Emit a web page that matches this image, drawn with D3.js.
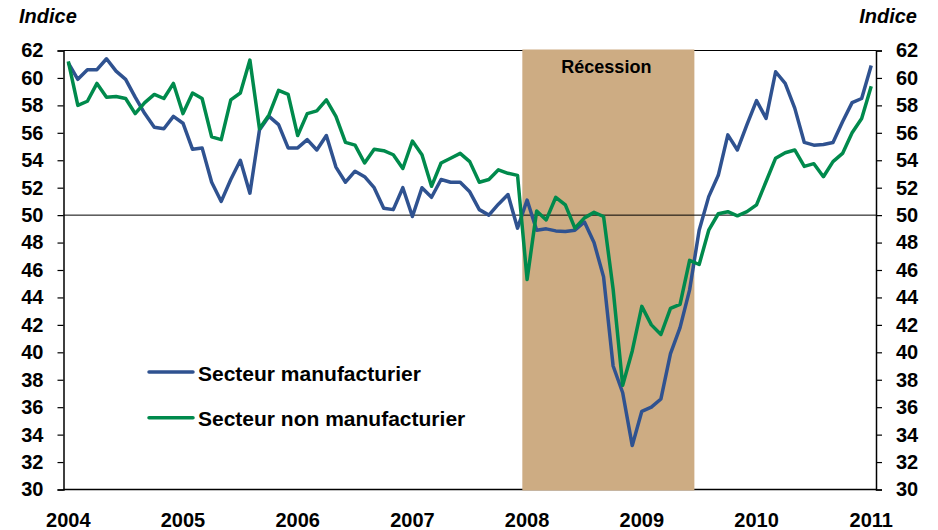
<!DOCTYPE html>
<html>
<head>
<meta charset="utf-8">
<script src="https://cdn.jsdelivr.net/npm/d3@7"></script>
<style>
  body { margin: 0; background: #fff; }
  svg { display: block; font-family: "Liberation Sans", Arial, sans-serif; }
</style>
</head>
<body>
<svg width="938" height="530"></svg>
<script>
// monthly categories, Jan 2004 .. Jan 2011
const months = d3.timeMonth.range(new Date(2004, 0, 1), new Date(2011, 1, 1));
const yearTicks = [2004, 2005, 2006, 2007, 2008, 2009, 2010, 2011];
const yTicks = d3.range(30, 63, 2);

const manufacturier = [
  61.1, 59.9, 60.6, 60.6, 61.4, 60.5, 59.9, 58.6, 57.4, 56.4, 56.3, 57.2,
  56.7, 54.8, 54.9, 52.4, 51.0, 52.6, 54.0, 51.6, 56.2, 57.2, 56.6, 54.9,
  54.9, 55.5, 54.75, 55.8, 53.5, 52.4, 53.2, 52.8, 52.0, 50.5, 50.4, 52.0,
  49.9, 52.0, 51.3, 52.6, 52.4, 52.4, 51.7, 50.4, 50.0, 50.8, 51.5, 49.05,
  51.1, 48.9, 49.0, 48.85, 48.8, 48.9, 49.5, 48.0, 45.5, 39.0, 37.05, 33.2,
  35.7, 36.0, 36.6, 39.9, 41.8, 44.55, 48.9, 51.35, 52.9, 55.85, 54.75, 56.6,
  58.35, 57.05, 60.45, 59.6, 57.8, 55.3, 55.1, 55.15, 55.3, 56.8, 58.2, 58.5,
  60.9
];
const nonManufacturier = [
  61.2, 58.0, 58.3, 59.6, 58.6, 58.65, 58.5, 57.4, 58.2, 58.8, 58.5, 59.6,
  57.4, 58.9, 58.5, 55.7, 55.5, 58.4, 58.9, 61.3, 56.3, 57.3, 59.1, 58.8,
  55.8, 57.4, 57.6, 58.4, 57.2, 55.3, 55.1, 53.8, 54.8, 54.7, 54.4, 53.4,
  55.4, 54.4, 52.1, 53.8, 54.15, 54.5, 53.9, 52.4, 52.6, 53.3, 53.05, 52.9,
  45.3, 50.3, 49.65, 51.3, 50.75, 49.05, 49.8, 50.2, 49.9, 44.6, 37.6, 40.1,
  43.35, 42.0, 41.3, 43.2, 43.5, 46.7, 46.4, 48.9, 50.1, 50.25, 49.95, 50.25,
  50.75, 52.45, 54.15, 54.55, 54.75, 53.55, 53.75, 52.8, 53.9, 54.5, 56.0, 57.05,
  59.4
];
const recession = [new Date(2008, 0, 1), new Date(2009, 5, 1)];

const series = [
  { name: "Secteur manufacturier", values: manufacturier, color: "#2F5290" },
  { name: "Secteur non manufacturier", values: nonManufacturier, color: "#008A4C" }
];

const svg = d3.select("svg");
const plotL = 63.5, plotR = 876, plotT = 50.5, plotB = 489.5;
const fontFam = "Liberation Sans, Arial, sans-serif";

const x = d3.scaleBand().domain(months.map(d => +d)).range([plotL, plotR]).padding(0);
const xc = d => x(+d) + x.bandwidth() / 2;
const y = d3.scaleLinear().domain([30, 62]).range([plotB, plotT]);

// frame top / bottom
svg.append("line").attr("x1", plotL).attr("x2", plotR).attr("y1", plotT).attr("y2", plotT)
  .attr("stroke", "#000").attr("stroke-width", 1.2);
svg.append("line").attr("x1", plotL).attr("x2", plotR).attr("y1", plotB).attr("y2", plotB)
  .attr("stroke", "#000").attr("stroke-width", 1.5);

// recession band
const r0 = x(+recession[0]);
const r1 = x(+recession[1]) + x.bandwidth();
svg.append("rect").attr("x", r0).attr("y", plotT - 1).attr("width", r1 - r0)
  .attr("height", plotB - plotT + 2).attr("fill", "#CDAC83");
svg.append("text").attr("x", (r0 + r1) / 2 - 2).attr("y", 73).attr("text-anchor", "middle")
  .attr("font-size", 18).attr("font-weight", "bold").text("Récession");

// 50 line
svg.append("line").attr("x1", plotL).attr("x2", plotR).attr("y1", y(50)).attr("y2", y(50))
  .attr("stroke", "#000").attr("stroke-width", 1);

// axes
const yl = svg.append("g").attr("transform", `translate(${plotL},0)`)
  .call(d3.axisLeft(y).tickValues(yTicks).tickSize(6).tickPadding(14).tickFormat(d3.format("d")));
const yr = svg.append("g").attr("transform", `translate(${plotR},0)`)
  .call(d3.axisRight(y).tickValues(yTicks).tickSize(6).tickPadding(14).tickFormat(d3.format("d")));
[yl, yr].forEach(g => {
  g.select(".domain").attr("stroke", "#000").attr("stroke-width", 1.5);
  g.selectAll(".tick line").attr("stroke", "#000").attr("stroke-width", 1.2);
  g.selectAll(".tick text").attr("font-size", 20).attr("font-weight", "bold")
    .attr("font-family", fontFam).attr("fill", "#000");
});

const xa = svg.append("g").attr("transform", `translate(0,${plotB})`)
  .call(d3.axisBottom(x).tickValues(yearTicks.map(yr => +new Date(yr, 0, 1)))
    .tickSize(0).tickPadding(23).tickFormat(d => new Date(d).getFullYear()));
xa.select(".domain").remove();
xa.selectAll(".tick text").attr("font-size", 20).attr("font-weight", "bold")
  .attr("font-family", fontFam).attr("fill", "#000");

// lines
const line = d3.line().x((d, i) => xc(months[i])).y(d => y(d));
series.forEach(s => {
  svg.append("path").datum(s.values).attr("d", line).attr("fill", "none")
    .attr("stroke", s.color).attr("stroke-width", 3.5).attr("stroke-linejoin", "round");
});

// legend
const legend = svg.append("g");
series.forEach((s, i) => {
  const ly = 372 + i * 45.7;
  legend.append("line").attr("x1", 149).attr("x2", 193).attr("y1", ly).attr("y2", ly)
    .attr("stroke", s.color).attr("stroke-width", 3.5).attr("stroke-linecap", "round");
  legend.append("text").attr("x", 198).attr("y", ly + 8.7).attr("font-size", 21)
    .attr("font-weight", "bold").text(s.name);
});

// axis titles
svg.append("text").attr("x", 19).attr("y", 23).attr("font-size", 20)
  .attr("font-weight", "bold").attr("font-style", "italic").text("Indice");
svg.append("text").attr("x", 917).attr("y", 23).attr("text-anchor", "end").attr("font-size", 20)
  .attr("font-weight", "bold").attr("font-style", "italic").text("Indice");
</script>
</body>
</html>
